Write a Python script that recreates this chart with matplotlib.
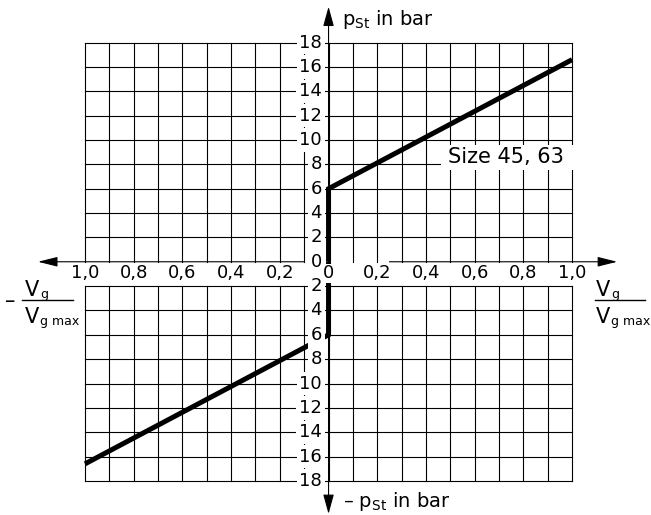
import numpy as np
import matplotlib
matplotlib.use("Agg")
import matplotlib.pyplot as plt
from matplotlib.lines import Line2D
from matplotlib.patches import Rectangle

plt.rcParams['font.family'] = ['DejaVu Sans']
plt.rcParams['mathtext.fontset'] = 'dejavusans'

# ---------------- data ----------------
x_ticks = [-1.0, -0.8, -0.6, -0.4, -0.2, 0.0, 0.2, 0.4, 0.6, 0.8, 1.0]
x_tick_labels = ["1,0", "0,8", "0,6", "0,4", "0,2", "0", "0,2", "0,4", "0,6", "0,8", "1,0"]
y_ticks = [-18, -16, -14, -12, -10, -8, -6, -4, -2, 0, 2, 4, 6, 8, 10, 12, 14, 16, 18]
y_tick_labels = ["18", "16", "14", "12", "10", "8", "6", "4", "2", "0",
                 "2", "4", "6", "8", "10", "12", "14", "16", "18"]
grid_x = [-1.0, -0.9, -0.8, -0.7, -0.6, -0.5, -0.4, -0.3, -0.2, -0.1, 0.0,
          0.1, 0.2, 0.3, 0.4, 0.5, 0.6, 0.7, 0.8, 0.9, 1.0]

pos_x = [0.0, 0.0, 1.0]
pos_y = [0.0, 6.0, 16.6]
neg_x = [0.0, 0.0, -1.0]
neg_y = [0.0, -6.0, -16.6]
curve_label = "Size 45, 63"

# ---------------- figure ----------------
W, H = 651, 515
fig = plt.figure(figsize=(W / 100, H / 100), dpi=100)
ax = fig.add_axes([0, 0, 1, 1])
ax.set_xlim(-1.349, 1.324)
ax.set_ylim(-20.80, 21.50)
ax.axis('off')

def px(x, y):
    return (x / W, 1 - y / H)

glw = 0.8
# vertical grid lines (row between 0 and -2 left blank)
for gx in grid_x:
    ax.plot([gx, gx], [-18, -2], color='black', lw=glw, zorder=1)
    ax.plot([gx, gx], [0, 18], color='black', lw=glw, zorder=1)
# horizontal grid lines
for gy in y_ticks:
    if gy != 0:
        ax.plot([-1, 1], [gy, gy], color='black', lw=glw, zorder=1)

# axes with arrows
astyle = '-|>,head_length=1.2,head_width=0.3'
ax.annotate('', xy=(-1.193, 0), xytext=(-0.1, 0),
            arrowprops=dict(arrowstyle=astyle, mutation_scale=10, lw=glw,
                            color='black', shrinkA=0, shrinkB=0), zorder=2)
ax.annotate('', xy=(1.185, 0), xytext=(0.25, 0),
            arrowprops=dict(arrowstyle=astyle, mutation_scale=10, lw=glw,
                            color='black', shrinkA=0, shrinkB=0), zorder=2)
ax.annotate('', xy=(0, 20.95), xytext=(0, -20.71),
            arrowprops=dict(arrowstyle='<|-|>,head_length=1.2,head_width=0.33',
                            mutation_scale=10, lw=glw, color='black',
                            shrinkA=0, shrinkB=0), zorder=2)

# characteristic curves
ax.plot(pos_x, pos_y, color='black', lw=3.6, solid_joinstyle='miter',
        solid_capstyle='butt', zorder=4)
ax.plot(neg_x, neg_y, color='black', lw=3.6, solid_joinstyle='miter',
        solid_capstyle='butt', zorder=4)

# tick labels
for yv, lab in zip(y_ticks, y_tick_labels):
    ax.text(-0.027, yv, lab, ha='right', va='center', fontsize=13, zorder=6,
            bbox=dict(boxstyle='square,pad=0.15', fc='white', ec='none'))
for xv, lab in zip(x_ticks, x_tick_labels):
    ax.text(xv, -0.96, lab, ha='center', va='center', fontsize=13, zorder=6,
            bbox=dict(boxstyle='square,pad=0.05', fc='white', ec='none'))

# curve label
ax.add_patch(Rectangle((0.462, 7.54), 0.554, 2.05, fc='white', ec='none', zorder=3))
ax.text(0.729, 8.61, curve_label, ha='center', va='center', fontsize=15, zorder=6)

# axis titles
fig.text(*px(342, 25), r"p$_\mathrm{St}$ in bar", fontsize=14, ha='left', va='baseline')
fig.text(*px(343, 507), r"– p$_\mathrm{St}$ in bar", fontsize=14, ha='left', va='baseline')

def fraction(x0, bar_x0, bar_x1, dash=False):
    fig.text(*px(x0, 296), "V", fontsize=15, ha='left', va='baseline')
    fig.text(*px(x0 + 15, 298), "g", fontsize=9, ha='left', va='baseline')
    fig.add_artist(Line2D([bar_x0 / W, bar_x1 / W], [1 - 300 / H, 1 - 300 / H],
                          color='black', lw=1.0, transform=fig.transFigure))
    fig.text(*px(x0, 323), "V", fontsize=15, ha='left', va='baseline')
    fig.text(*px(x0 + 15, 325), "g max", fontsize=9, ha='left', va='baseline')
    if dash:
        fig.text(*px(10.5, 301), "–", fontsize=15, ha='center', va='center')

fraction(25, 22, 73, dash=True)
fraction(596, 595, 645)

fig.savefig("out.png", dpi=100)
